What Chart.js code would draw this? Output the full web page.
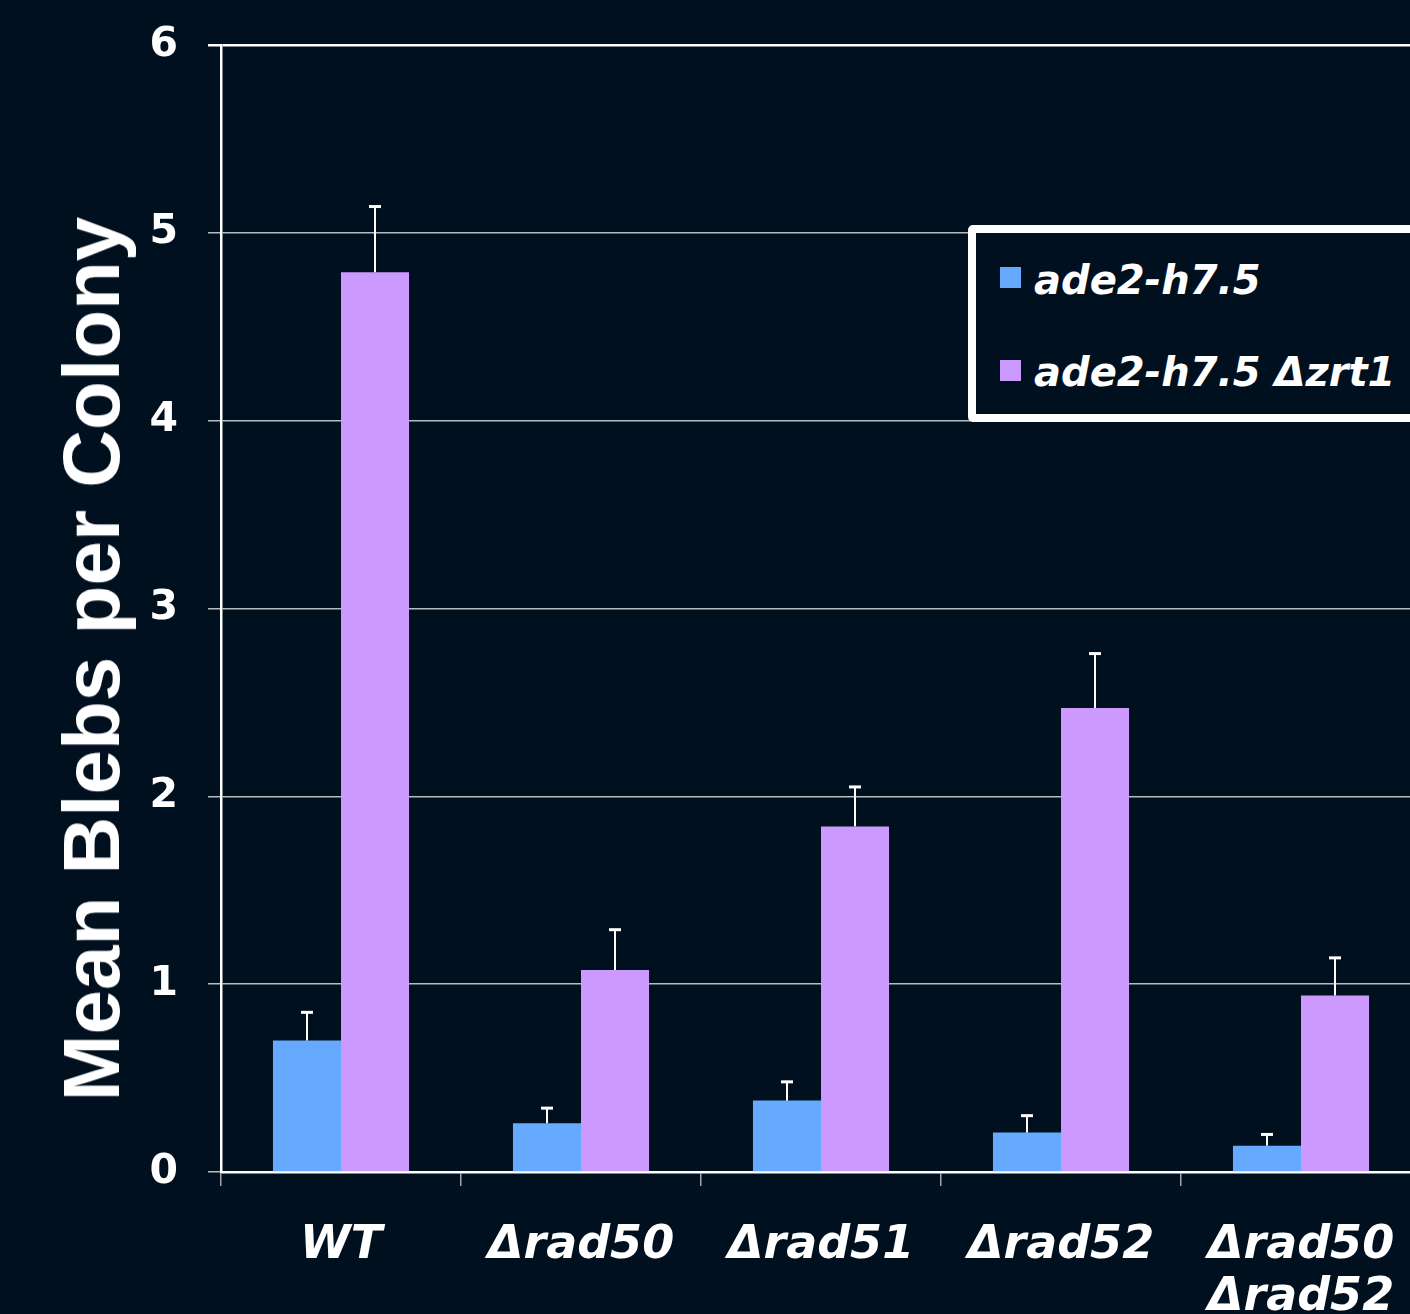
<!DOCTYPE html>
<html lang="en">
<head>
    <meta charset="UTF-8">
    <title>Mean Blebs per Colony</title>
    <script src="https://cdn.jsdelivr.net/npm/chart.js"></script>
    <style>
        html, body { margin: 0; padding: 0; background: #00101f; overflow: hidden; }
        .wrap { position: relative; width: 1440px; height: 1314px; }
        .y-title {
            position: absolute; left: 92px; top: 659px;
            transform: translate(-50%, -50%) rotate(-90deg);
            font: bold 80px "Liberation Sans", Arial, sans-serif; color: #fff;
            white-space: nowrap; line-height: 1;
        }
        .legend {
            position: absolute; left: 968px; top: 225px; width: 470px; height: 197px;
            box-sizing: border-box; border: 8px solid #fff; border-radius: 5px; background: #00101f;
        }
        .legend .sw { position: absolute; width: 21px; height: 21px; }
        .legend .lbl {
            position: absolute; white-space: nowrap; color: #fff; line-height: 40px;
            font: italic bold 40px "DejaVu Sans", Verdana, sans-serif;
        }
    </style>
</head>
<body>
<div class="wrap">
    <canvas id="blebsChart" width="1440" height="1314"></canvas>
    <div class="y-title">Mean Blebs per Colony</div>
    <!-- legend, page coords minus box offset -->
    <div class="legend">
        <div class="sw" style="left:24px; top:34px; background:#66aaff"></div>
        <div class="lbl" style="left:58px; top:24px">ade2-h7.5</div>
        <div class="sw" style="left:24px; top:127px; background:#cc99ff"></div>
        <div class="lbl" style="left:58px; top:116px">ade2-h7.5 Δzrt1</div>
    </div>
</div>

<script>
    const strains = ['WT', 'Δrad50', 'Δrad51', 'Δrad52', ['Δrad50', 'Δrad52']];
    const seriesNames = ['ade2-h7.5', 'ade2-h7.5 Δzrt1'];

    const wtMeans   = [0.70, 0.26, 0.38, 0.21, 0.14];
    const wtErrors  = [0.15, 0.08, 0.10, 0.09, 0.06];
    const zrtMeans  = [4.79, 1.075, 1.84, 2.47, 0.94];
    const zrtErrors = [0.35, 0.215, 0.21, 0.29, 0.20];

    const yTicks = [0, 1, 2, 3, 4, 5, 6];

    // upward-only error bars with a small cap
    const errorBars = {
        id: 'errorBars',
        afterDatasetsDraw(chart) {
            const ctx = chart.ctx;
            const y = chart.scales.y;
            chart.data.datasets.forEach((ds, i) => {
                const meta = chart.getDatasetMeta(i);
                meta.data.forEach((bar, j) => {
                    const top = y.getPixelForValue(ds.data[j] + ds.errors[j]);
                    ctx.save();
                    ctx.strokeStyle = '#fff';
                    ctx.lineWidth = 2;
                    ctx.beginPath();
                    ctx.moveTo(bar.x, bar.y);
                    ctx.lineTo(bar.x, top);
                    ctx.stroke();
                    ctx.lineWidth = 3;
                    ctx.beginPath();
                    ctx.moveTo(bar.x - 6, top);
                    ctx.lineTo(bar.x + 6, top);
                    ctx.stroke();
                    ctx.restore();
                });
            });
        }
    };

    const ctx = document.getElementById('blebsChart').getContext('2d');
    new Chart(ctx, {
        type: 'bar',
        data: {
            labels: strains,
            datasets: [
                { label: seriesNames[0], data: wtMeans, errors: wtErrors, backgroundColor: '#66aaff' },
                { label: seriesNames[1], data: zrtMeans, errors: zrtErrors, backgroundColor: '#cc99ff' }
            ]
        },
        options: {
            responsive: false,
            animation: false,
            devicePixelRatio: 1,
            layout: { padding: { top: 45, right: 19, bottom: 0, left: 0 } },
            datasets: { bar: { categoryPercentage: 0.567, barPercentage: 1.0 } },
            plugins: { legend: { display: false }, tooltip: { enabled: false } },
            scales: {
                x: {
                    grid: { drawOnChartArea: false, drawTicks: true, tickLength: 14, color: '#a0a6ad', lineWidth: 1.5 },
                    border: { color: '#fff', width: 2.5 },
                    ticks: {
                        color: '#fff', padding: 34, maxRotation: 0, autoSkip: false,
                        font: { family: 'DejaVu Sans', size: 46, weight: 'bold', style: 'italic', lineHeight: 1.13 }
                    },
                    afterFit(s) { s.height = 142; s.paddingLeft = 0; s.paddingRight = 0; }
                },
                y: {
                    min: 0, max: 6,
                    afterBuildTicks(s) { s.ticks = yTicks.map(v => ({ value: v })); },
                    ticks: {
                        color: '#fff', padding: 30,
                        font: { family: 'DejaVu Sans', size: 41, weight: 'bold' }
                    },
                    grid: {
                        tickLength: 13,
                        color: c => c.tick && c.tick.value === 6 ? '#ffffff' : 'rgba(255,255,255,0.72)',
                        lineWidth: c => c.tick && c.tick.value === 6 ? 2.5 : 1.5
                    },
                    border: { color: '#fff', width: 2.5 },
                    afterFit(s) { s.width = 221; s.paddingTop = 0; s.paddingBottom = 0; }
                }
            }
        },
        plugins: [errorBars]
    });
</script>
</body>
</html>
